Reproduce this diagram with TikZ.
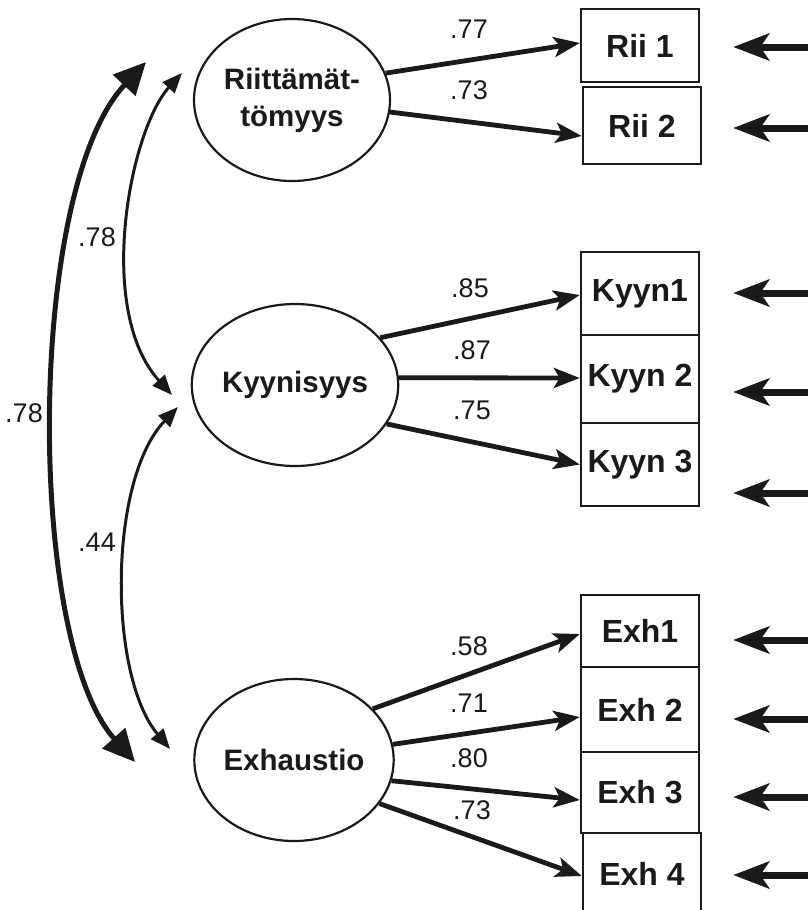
\documentclass[tikz,border=0pt]{standalone}
\usepackage{fontspec}
\setmainfont{Liberation Sans}
\usetikzlibrary{shapes.geometric,arrows.meta,calc}
\definecolor{ink}{HTML}{1A1A1A}
\begin{document}
\begin{tikzpicture}[x=1pt,y=-1pt,
  lat/.style={draw=ink, line width=2.2pt, ellipse, minimum width=196pt, minimum height=162pt, inner sep=0pt, align=center, font=\fontsize{29.5}{37}\selectfont\bfseries, text=ink},
  obs/.style={draw=ink, line width=2.4pt, rectangle, minimum width=118pt, inner sep=0pt, font=\fontsize{32}{38}\selectfont\bfseries, text=ink},
  lbl/.style={font=\fontsize{27}{30}\selectfont, text=ink, inner sep=0pt},
  load/.style={draw=ink, line width=4.8pt, -{Stealth[length=26pt,width=20pt,inset=6pt]}},
  err/.style={draw=ink, line width=7pt, shorten >=33pt, -{Stealth[length=36pt,width=27pt,inset=9pt]}},
  covbig/.style={draw=ink, line width=5pt, {Triangle[length=32pt,width=30pt]}-{Triangle[length=32pt,width=30pt]}},
  covsm/.style={draw=ink, line width=3pt, {Triangle[length=20pt,width=16pt]}-{Triangle[length=20pt,width=16pt]}},
]
\clip (0,0) rectangle (808,910);

% latent variables
\node[lat] (rii) at (292,100) {Riittämät-\\tömyys};
\node[lat] (kyy) at (295,385) {Kyynisyys};
\node[lat] (exh) at (294,760) {Exhaustio};

% observed variables
\node[obs, minimum height=73pt] (rii1) at (640,45.5) {Rii 1};
\node[obs, minimum height=77pt] (rii2) at (642,125.5) {Rii 2};
\node[obs, minimum height=83pt] (kyyn1) at (640,293.5) {Kyyn1};
\node[obs, minimum height=88pt] (kyyn2) at (640,379) {Kyyn 2};
\node[obs, minimum height=83pt] (kyyn3) at (640,464.5) {Kyyn 3};
\node[obs, minimum height=72pt] (exh1) at (640,631) {Exh1};
\node[obs, minimum height=85pt] (exh2) at (640,709.5) {Exh 2};
\node[obs, minimum height=81pt] (exh3) at (640,792.5) {Exh 3};
\node[obs, minimum height=82pt] (exh4) at (642,874) {Exh 4};

% loadings
\draw[load] (rii.16) -- ($(rii1.west)+(0,-2.5)$);
\draw[load] (rii.-7) -- ($(rii2.west)+(0,10.5)$);
\draw[load] (kyy.29.5) -- ($(kyyn1.west)+(0,1.5)$);
\draw[load] (kyy.4) -- ($(kyyn2.west)+(0,-1)$);
\draw[load] (kyy.-23) -- (kyyn3.west);
\draw[load] (exh.33) -- ($(exh1.west)+(0,3)$);
\draw[load] (exh.9.5) -- ($(exh2.west)+(0,7.5)$);
\draw[load] (exh.-12) -- ($(exh3.west)+(0,7.5)$);
\draw[load] (exh.-27) -- ($(exh4.west)+(0,2)$);

\node[lbl] (l77) at (469,29) {.77};
\node[lbl] (l73a) at (469,90) {.73};
\node[lbl] (l85) at (470,288) {.85};
\node[lbl] (l87) at (472,350) {.87};
\node[lbl] (l75) at (472,410) {.75};
\node[lbl] (l58) at (469,646) {.58};
\node[lbl] (l71) at (469,703) {.71};
\node[lbl] (l80) at (469,758) {.80};
\node[lbl] (l73b) at (472,810) {.73};

% error arrows
\coordinate (e1) at (815,47);
\coordinate (e2) at (815,128);
\coordinate (e3) at (815,293);
\coordinate (e4) at (815,392);
\coordinate (e5) at (815,493);
\coordinate (e6) at (815,640);
\coordinate (e7) at (815,719);
\coordinate (e8) at (815,797);
\coordinate (e9) at (815,875);
\draw[err] (e1) -- (e1 -| rii1.east);
\draw[err] (e2) -- (e2 -| rii1.east);
\draw[err] (e3) -- (e3 -| kyyn1.east);
\draw[err] (e4) -- (e4 -| kyyn2.east);
\draw[err] (e5) -- (e5 -| kyyn3.east);
\draw[err] (e6) -- (e6 -| exh1.east);
\draw[err] (e7) -- (e7 -| exh2.east);
\draw[err] (e8) -- (e8 -| exh3.east);
\draw[err] (e9) -- (e9 -| exh1.east);

% covariances
\coordinate (c1) at (146,62);
\coordinate (c2) at (135,762);
\coordinate (u1) at (182,73);
\coordinate (u2) at (172,395);
\coordinate (w1) at (178,407);
\coordinate (w2) at (170,749);
\draw[covbig] (c1) .. controls (26,190) and (26,640) .. (c2);
\draw[covsm] (u1) .. controls (130,130) and (95,310) .. (u2);
\draw[covsm] (w1) .. controls (108,480) and (108,675) .. (w2);

\node[lbl] (cA) at (97,237) {.78};
\node[lbl] (cB) at (24,413) {.78};
\node[lbl] (cC) at (97,542) {.44};
\end{tikzpicture}
\end{document}
